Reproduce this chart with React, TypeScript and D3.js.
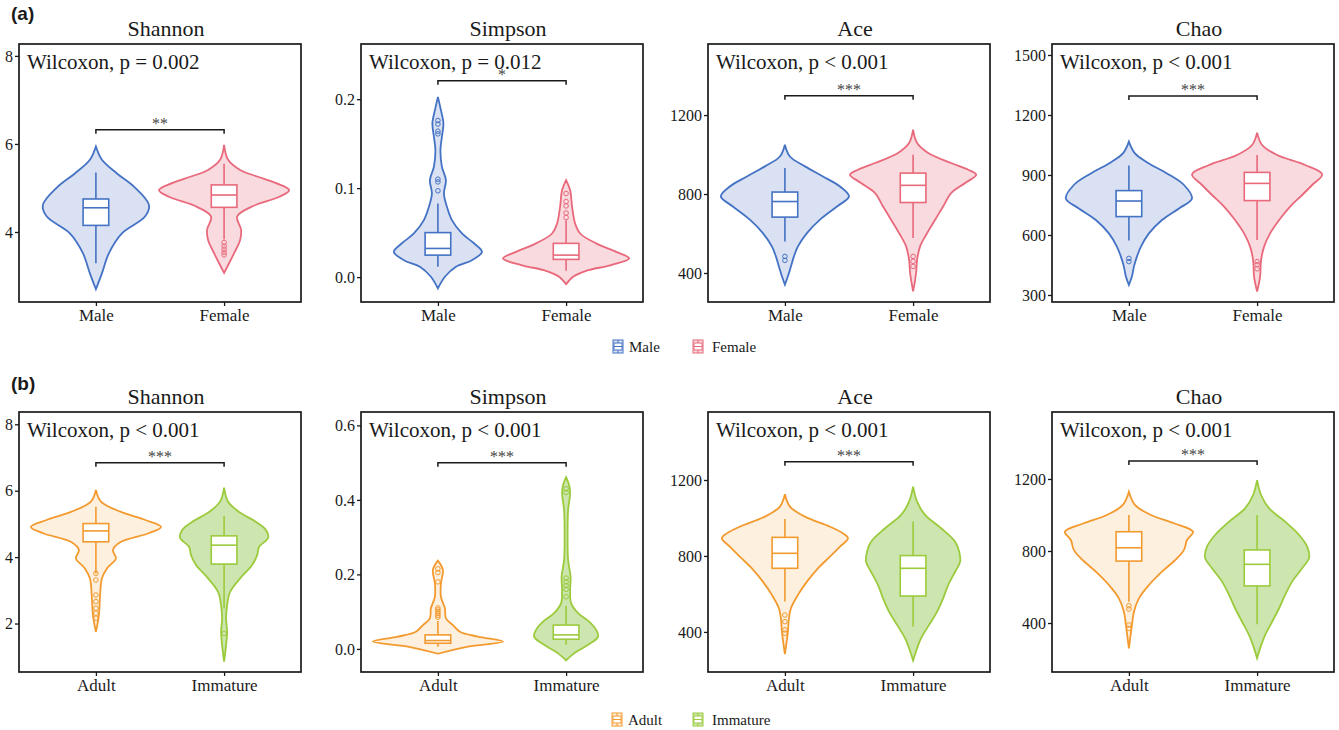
import React, { useEffect, useRef } from "react";
import * as d3 from "d3";

const SERIF = "'Liberation Serif', 'Times New Roman', serif";
const SANS = "'Liberation Sans', Arial, sans-serif";

// ---- layout ----
const PW = 282;
const panelLefts = [19, 361, 708, 1052];
const rowTops = [44, 412];
const rowHeights = [258, 260];

// ---- shared labels ----
const metrics = ["Shannon", "Simpson", "Ace", "Chao"];
const sexGroups = ["Male", "Female"];
const stageGroups = ["Adult", "Immature"];
const sexColors = ["#4472C4", "#E8697B"];
const sexFills = ["#D9E1F2", "#F9DADF"];
const stageColors = ["#F39A2F", "#9BCB3C"];
const stageFills = ["#FDF0DF", "#CDE5AE"];

// ---- row (a): sex ----
const pTextA = ["Wilcoxon, p = 0.002", "Wilcoxon, p = 0.012", "Wilcoxon, p < 0.001", "Wilcoxon, p < 0.001"];
const starsA = ["**", "*", "***", "***"];
const sigYA = [6.32, 0.2206, 1298, 1295];
const domainsA = [[2.41, 8.27], [-0.028, 0.262], [253, 1560], [265, 1555]];
const ticksA = [[4, 6, 8], [0, 0.1, 0.2], [400, 800, 1200], [300, 600, 900, 1200, 1500]];

// ---- row (b): stage ----
const pTextB = ["Wilcoxon, p < 0.001", "Wilcoxon, p < 0.001", "Wilcoxon, p < 0.001", "Wilcoxon, p < 0.001"];
const starsB = ["***", "***", "***", "***"];
const sigYB = [6.84, 0.5, 1296, 1300];
const domainsB = [[0.54, 8.37], [-0.062, 0.636], [189, 1558], [128, 1572]];
const ticksB = [[2, 4, 6, 8], [0, 0.2, 0.4, 0.6], [400, 800, 1200], [400, 800, 1200]];

// violin profiles: [value, relative density], box: [lower whisker, q1, median, q3, upper whisker]
const shannonMale = [[5.94, 0], [5.64, 6], [5.33, 21], [5.03, 38], [4.61, 53], [4.35, 49], [3.97, 26], [3.52, 13], [3.06, 6], [2.7, 0]];
const shannonMaleBox = [3.29, 4.15, 4.55, 4.75, 5.35];
const shannonMaleOut: number[] = [];
const shannonFemale = [[5.98, 0], [5.64, 4], [5.41, 16], [5.26, 33], [5.11, 52], [4.95, 65], [4.8, 55], [4.57, 27], [4.35, 13], [4.05, 17], [3.82, 16], [3.52, 10], [3.29, 5], [3.07, 0]];
const shannonFemaleBox = [3.83, 4.56, 4.84, 5.07, 5.55];
const shannonFemaleOut = [3.76, 3.68, 3.61, 3.54, 3.48];

const simpsonMale = [[0.2026, 0], [0.1876, 3], [0.1727, 5.5], [0.1577, 4], [0.1427, 2.5], [0.124, 4], [0.109, 8], [0.094, 6], [0.079, 9], [0.064, 14], [0.049, 24], [0.038, 36], [0.0284, 44], [0.019, 34], [0.0116, 18], [0.0004, 7], [-0.0127, 0]];
const simpsonMaleBox = [0.0116, 0.0247, 0.0322, 0.05, 0.0828];
const simpsonMaleOut = [0.097, 0.107, 0.11, 0.161, 0.164, 0.172, 0.176];
const simpsonFemale = [[0.109, 0], [0.0978, 4], [0.079, 6], [0.0603, 9], [0.049, 14], [0.0379, 30], [0.0284, 50], [0.021, 63], [0.0135, 45], [0.0071, 20], [0.0004, 7], [-0.0079, 0]];
const simpsonFemaleBox = [0.0071, 0.0199, 0.0247, 0.0379, 0.064];
const simpsonFemaleOut = [0.067, 0.072, 0.08, 0.085, 0.094];

const aceMale = [[1050, 0], [990, 5], [940, 20], [889, 38], [838, 55], [788, 64], [737, 52], [670, 35], [602, 22], [535, 13], [484, 9], [433, 6], [383, 3], [341, 0]];
const aceMaleBox = [560, 683, 762, 810, 932];
const aceMaleOut = [464, 484];
const aceFemale = [[1126, 0], [1058, 4], [1008, 15], [957, 38], [923, 55], [898, 63], [856, 52], [805, 38], [737, 30], [670, 22], [602, 14], [535, 7], [467, 4], [400, 3], [307, 0]];
const aceFemaleBox = [577, 757, 844, 906, 999];
const aceFemaleOut = [433, 459, 484];

const chaoMale = [[1067, 0], [1008, 6], [958, 20], [908, 38], [850, 55], [783, 63], [733, 50], [675, 33], [608, 20], [542, 12], [492, 8], [442, 5], [392, 3], [350, 0]];
const chaoMaleBox = [572, 692, 770, 822, 947];
const chaoMaleOut = [467, 483];
const chaoFemale = [[1112, 0], [1050, 5], [1000, 20], [950, 48], [903, 65], [850, 55], [800, 45], [742, 33], [675, 22], [608, 13], [542, 7], [475, 4], [392, 3], [317, 0]];
const chaoFemaleBox = [575, 772, 858, 913, 1000];
const chaoFemaleOut = [431, 452, 467];

const shannonAdult = [[6.02, 0], [5.67, 5], [5.36, 25], [5.11, 50], [4.91, 65], [4.71, 52], [4.46, 25], [4.21, 17], [3.96, 20], [3.66, 11], [3.36, 6], [2.76, 4], [2.25, 3], [1.75, 0]];
const shannonAdultBox = [3.51, 4.46, 4.79, 5.01, 5.52];
const shannonAdultOut = [3.51, 3.31, 2.86, 2.66, 2.46, 2.31, 2.16];
const shannonImm = [[6.09, 0], [5.67, 4], [5.36, 15], [5.06, 32], [4.81, 42], [4.58, 44], [4.31, 35], [4.06, 33], [3.76, 28], [3.36, 16], [2.95, 6], [2.55, 3], [2.15, 2], [1.75, 3], [1.35, 2], [0.85, 0]];
const shannonImmBox = [2.45, 3.79, 4.36, 4.64, 5.24];
const shannonImmOut = [1.7];

const simpsonAdult = [[0.237, 0], [0.212, 5], [0.176, 3], [0.14, 3], [0.109, 7], [0.082, 8], [0.064, 15], [0.046, 22], [0.033, 40], [0.0197, 65], [0.0063, 30], [-0.013, 0]];
const simpsonAdultBox = [0.006, 0.0152, 0.0224, 0.0376, 0.075];
const simpsonAdultOut = [0.085, 0.09, 0.095, 0.1, 0.105, 0.11, 0.18, 0.205, 0.215];
const simpsonImm = [[0.461, 0], [0.44, 3], [0.418, 4], [0.373, 2], [0.301, 1.5], [0.239, 2], [0.194, 4.5], [0.158, 4], [0.123, 5], [0.096, 12], [0.073, 23], [0.051, 30], [0.033, 32], [0.011, 22], [-0.012, 8], [-0.031, 0]];
const simpsonImmBox = [0.011, 0.026, 0.0376, 0.064, 0.115];
const simpsonImmOut = [0.14, 0.16, 0.17, 0.18, 0.19, 0.42, 0.43];

const aceAdult = [[1125, 0], [1060, 5], [1007, 20], [954, 45], [919, 58], [893, 63], [849, 55], [796, 45], [735, 33], [665, 22], [595, 13], [525, 6], [472, 4], [402, 3], [283, 0]];
const aceAdultBox = [560, 735, 814, 898, 995];
const aceAdultOut = [393, 411, 454, 489];
const aceImm = [[1165, 0], [1086, 4], [1016, 12], [946, 28], [875, 42], [823, 46], [770, 47], [717, 42], [647, 35], [577, 30], [507, 24], [437, 16], [367, 8], [314, 4], [249, 0]];
const aceImmBox = [428, 589, 735, 802, 981];
const aceImmOut: number[] = [];

const chaoAdult = [[1129, 0], [1056, 6], [1000, 22], [954, 45], [907, 64], [861, 58], [806, 55], [759, 48], [685, 33], [611, 20], [537, 10], [463, 5], [389, 3], [259, 0]];
const chaoAdultBox = [518, 744, 818, 907, 1000];
const chaoAdultOut = [370, 389, 478, 496];
const chaoImm = [[1194, 0], [1111, 4], [1037, 12], [963, 28], [889, 42], [824, 50], [763, 52], [704, 45], [630, 35], [556, 28], [482, 22], [407, 15], [333, 8], [259, 3], [204, 0]];
const chaoImmBox = [393, 606, 726, 806, 1000];
const chaoImmOut: number[] = [];

const violinsA = [
  [[shannonMale, shannonMaleBox, shannonMaleOut], [shannonFemale, shannonFemaleBox, shannonFemaleOut]],
  [[simpsonMale, simpsonMaleBox, simpsonMaleOut], [simpsonFemale, simpsonFemaleBox, simpsonFemaleOut]],
  [[aceMale, aceMaleBox, aceMaleOut], [aceFemale, aceFemaleBox, aceFemaleOut]],
  [[chaoMale, chaoMaleBox, chaoMaleOut], [chaoFemale, chaoFemaleBox, chaoFemaleOut]],
];
const violinsB = [
  [[shannonAdult, shannonAdultBox, shannonAdultOut], [shannonImm, shannonImmBox, shannonImmOut]],
  [[simpsonAdult, simpsonAdultBox, simpsonAdultOut], [simpsonImm, simpsonImmBox, simpsonImmOut]],
  [[aceAdult, aceAdultBox, aceAdultOut], [aceImm, aceImmBox, aceImmOut]],
  [[chaoAdult, chaoAdultBox, chaoAdultOut], [chaoImm, chaoImmBox, chaoImmOut]],
];

const AxisLeft = ({ scale, ticks, fmt, transform }: any) => {
  const ref = useRef<SVGGElement>(null);
  useEffect(() => {
    const g = d3.select(ref.current);
    g.call(d3.axisLeft(scale).tickValues(ticks).tickFormat(fmt).tickSize(4).tickPadding(2) as any);
    g.select(".domain").remove();
    g.attr("font-family", SERIF).attr("font-size", 16);
    g.selectAll("text").attr("fill", "#1a1a1a");
    g.selectAll("line").attr("stroke", "#1a1a1a").attr("stroke-width", 1.3);
  });
  return <g ref={ref} transform={transform} />;
};

const AxisBottom = ({ scale, transform }: any) => {
  const ref = useRef<SVGGElement>(null);
  useEffect(() => {
    const g = d3.select(ref.current);
    g.call(d3.axisBottom(scale).tickSize(4).tickPadding(3) as any);
    g.select(".domain").remove();
    g.attr("font-family", SERIF).attr("font-size", 17);
    g.selectAll("text").attr("fill", "#1a1a1a");
    g.selectAll("line").attr("stroke", "#1a1a1a").attr("stroke-width", 1.3);
  });
  return <g ref={ref} transform={transform} />;
};

const Panel = ({ left, top, height, title, pText, stars, domain, ticks, sigY, groups, colors, fills, violins }: any) => {
  const x = d3.scalePoint<string>().domain(groups).range([0, PW]).padding(0.6);
  const y = d3.scaleLinear().domain(domain).range([height, 0]);
  const w = d3.scaleLinear().domain([0, 64]).range([0, x.step() / 2]);
  const boxHalf = x.step() * 0.1;
  const small = domain[1] < 1;
  const fmt = small ? d3.format(".1f") : d3.format("d");
  const x0 = x(groups[0])!;
  const x1 = x(groups[1])!;

  return (
    <g>
      <text x={left + PW / 2 + 6} y={top - 8.5} textAnchor="middle" fontFamily={SERIF} fontSize={22} fill="#1a1a1a">
        {title}
      </text>
      <g transform={`translate(${left},${top})`}>
        {violins.map(([profile, box, outs]: any, i: number) => {
          const cx = x(groups[i])!;
          const area = d3
            .area<number[]>()
            .y((d) => y(d[0]))
            .x0((d) => cx - w(d[1]))
            .x1((d) => cx + w(d[1]))
            .curve(d3.curveCatmullRom.alpha(0.5));
          const [lo, q1, med, q3, hi] = box;
          return (
            <g key={i}>
              <path d={area(profile) || ""} fill={fills[i]} stroke={colors[i]} strokeWidth={1.8} />
              <line x1={cx} x2={cx} y1={y(hi)} y2={y(q3)} stroke={colors[i]} strokeWidth={1.6} />
              <line x1={cx} x2={cx} y1={y(q1)} y2={y(lo)} stroke={colors[i]} strokeWidth={1.6} />
              <rect x={cx - boxHalf} y={y(q3)} width={boxHalf * 2} height={y(q1) - y(q3)} fill="#fff" stroke={colors[i]} strokeWidth={1.6} />
              <line x1={cx - boxHalf} x2={cx + boxHalf} y1={y(med)} y2={y(med)} stroke={colors[i]} strokeWidth={1.6} />
              {outs.map((o: number, j: number) => (
                <circle key={j} cx={cx} cy={y(o)} r={2.3} fill="none" stroke={colors[i]} strokeWidth={1} />
              ))}
            </g>
          );
        })}
        <path
          d={`M${x0},${y(sigY) + 4}V${y(sigY)}H${x1}V${y(sigY) + 4}`}
          fill="none"
          stroke="#1a1a1a"
          strokeWidth={1.5}
        />
        <text x={(x0 + x1) / 2} y={y(sigY) - 1} textAnchor="middle" fontFamily={SERIF} fontSize={16} fill="#444">
          {stars}
        </text>
        <text x={8} y={25} fontFamily={SERIF} fontSize={21} fill="#1a1a1a">
          {pText}
        </text>
        <rect x={0} y={0} width={PW} height={height} fill="none" stroke="#1a1a1a" strokeWidth={1.7} />
      </g>
      <AxisLeft scale={y} ticks={ticks} fmt={fmt} transform={`translate(${left},${top})`} />
      <AxisBottom scale={x} transform={`translate(${left},${top + height})`} />
    </g>
  );
};

const LegendItem = ({ x, baseline, label, color, fill, textX }: any) => {
  const top = baseline - 12;
  return (
    <g>
      <rect x={x} y={top} width={10} height={13} fill={fill} stroke={color} strokeWidth={1} />
      <line x1={x + 5} x2={x + 5} y1={top} y2={top + 13} stroke={color} strokeWidth={1} />
      <rect x={x + 1} y={top + 3} width={8} height={7} fill="#fff" stroke={color} strokeWidth={1} />
      <line x1={x + 1} x2={x + 9} y1={top + 6.5} y2={top + 6.5} stroke={color} strokeWidth={1} />
      <text x={textX} y={baseline} fontFamily={SERIF} fontSize={15} fill="#1a1a1a">
        {label}
      </text>
    </g>
  );
};

export default function App() {
  return (
    <svg width={1339} height={730} style={{ position: "absolute", left: 0, top: 0, background: "#fff" }}>
      <text x={11} y={20} fontFamily={SANS} fontWeight="bold" fontSize={19} fill="#1a1a1a">(a)</text>
      <text x={11} y={390} fontFamily={SANS} fontWeight="bold" fontSize={19} fill="#1a1a1a">(b)</text>
      {metrics.map((m, i) => (
        <Panel
          key={"a" + m}
          left={panelLefts[i]}
          top={rowTops[0]}
          height={rowHeights[0]}
          title={m}
          pText={pTextA[i]}
          stars={starsA[i]}
          domain={domainsA[i]}
          ticks={ticksA[i]}
          sigY={sigYA[i]}
          groups={sexGroups}
          colors={sexColors}
          fills={sexFills}
          violins={violinsA[i]}
        />
      ))}
      {metrics.map((m, i) => (
        <Panel
          key={"b" + m}
          left={panelLefts[i]}
          top={rowTops[1]}
          height={rowHeights[1]}
          title={m}
          pText={pTextB[i]}
          stars={starsB[i]}
          domain={domainsB[i]}
          ticks={ticksB[i]}
          sigY={sigYB[i]}
          groups={stageGroups}
          colors={stageColors}
          fills={stageFills}
          violins={violinsB[i]}
        />
      ))}
      <LegendItem x={613} baseline={352} label="Male" color={sexColors[0]} fill={sexFills[0]} textX={629} />
      <LegendItem x={693} baseline={352} label="Female" color={sexColors[1]} fill={sexFills[1]} textX={712} />
      <LegendItem x={612} baseline={725} label="Adult" color={stageColors[0]} fill={stageFills[0]} textX={628} />
      <LegendItem x={693} baseline={725} label="Immature" color={stageColors[1]} fill={stageFills[1]} textX={712} />
    </svg>
  );
}
